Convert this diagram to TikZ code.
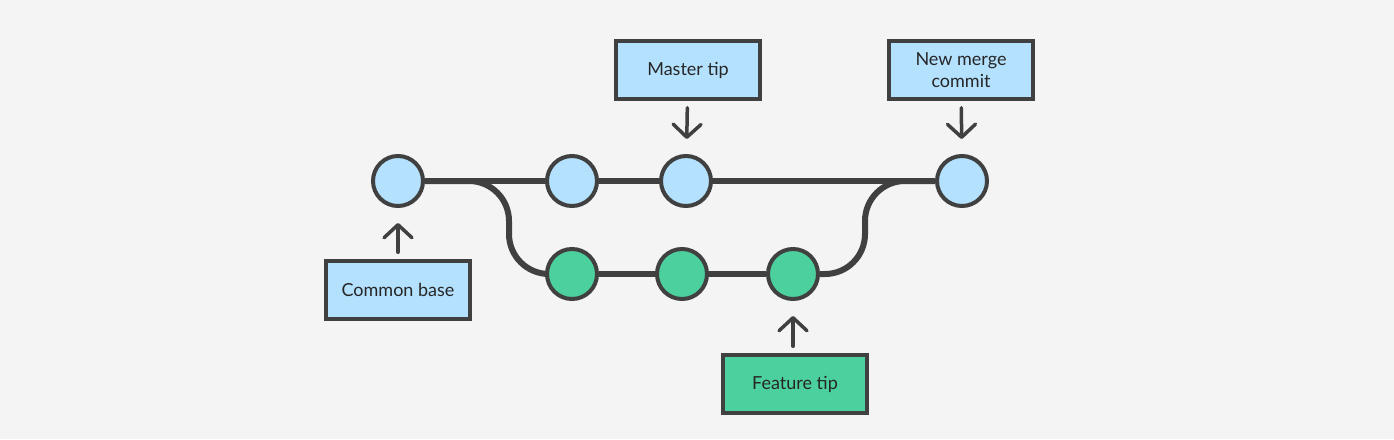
\documentclass[tikz,border=0pt]{standalone}
\usepackage{fontspec}
\setmainfont{Lato}
\usepackage{tikz}
\usetikzlibrary{positioning,backgrounds,arrows.meta}
\usepackage{xcolor}
\definecolor{bgcol}{RGB}{244,244,244}
\definecolor{inkcol}{RGB}{64,64,64}
\definecolor{bluecol}{RGB}{180,225,254}
\definecolor{greencol}{RGB}{76,209,158}

\begin{document}
\begin{tikzpicture}[
    x=1pt, y=-1pt,
    commit/.style={circle, draw=inkcol, line width=4pt, minimum size=50pt, inner sep=0pt},
    mcommit/.style={commit, fill=bluecol},
    fcommit/.style={commit, fill=greencol},
    lbl/.style={draw=inkcol, line width=3.5pt, minimum width=144pt, minimum height=58pt,
        align=center, text=black!85, font=\fontsize{18}{22}\selectfont},
    mlbl/.style={lbl, fill=bluecol},
    flbl/.style={lbl, fill=greencol},
    branch/.style={draw=inkcol, line width=6pt, rounded corners=40pt},
    ptr/.style={draw=inkcol, line width=3.5pt, line cap=round,
        -{Straight Barb[length=13pt, width=28pt, line width=3.5pt, round]},
        shorten <=7pt, shorten >=15pt},
]
\useasboundingbox (0,0) rectangle (1394,439);
% commits
\node[mcommit] (base) at (398,181) {};
\node[mcommit] (m1) at (572,181) {};
\node[mcommit] (m2) at (686,181) {};
\node[mcommit] (merge) at (962,181) {};
\node[fcommit] (f1) at (572,274) {};
\node[fcommit] (f2) at (682,274) {};
\node[fcommit] (f3) at (793,274) {};
% labels
\node[mlbl] (mastertip) at (688,70) {Master tip};
\node[mlbl] (mergelbl) at (961,70) {New merge\\commit};
\node[mlbl] (baselbl) at (398,290) {Common base};
\node[flbl] (featuretip) at (795,384) {Feature tip};
% pointers
\draw[ptr] (mastertip) -- (m2);
\draw[ptr] (mergelbl) -- (merge);
\draw[ptr] (baselbl) -- (base);
\draw[ptr] (featuretip.north -| f3) -- (f3);
% branches
\begin{scope}[on background layer]
\fill[bgcol] (0,0) rectangle (1394,439);
\draw[branch] (base) -- (merge);
\draw[branch] (base.east) -- ++(84,0) |- (f1.west);
\draw[branch] (f1) -- (f3);
\draw[branch] (f3.east) -- ++(45,0) |- (merge.west);
\end{scope}
\end{tikzpicture}
\end{document}
